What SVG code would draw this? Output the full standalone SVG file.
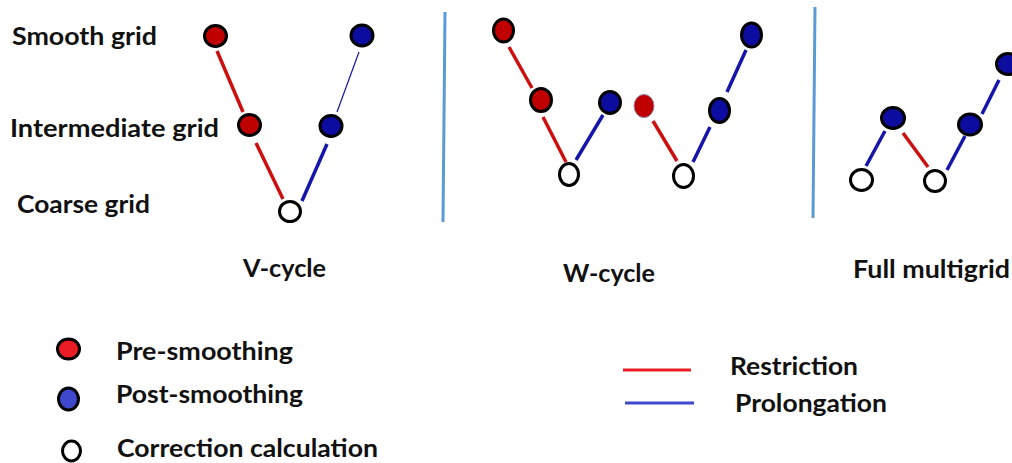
<svg xmlns="http://www.w3.org/2000/svg" width="1012" height="463" viewBox="0 0 1012 463">
<style>
text{font-family:Lato,"Open Sans","Liberation Sans",sans-serif;font-weight:bold;fill:#111;}
.lbl{font-size:24.5px;}
.pre{fill:#c00000;stroke:#000;stroke-width:3;}
.post{fill:#0c0ca0;stroke:#000;stroke-width:3;}
.cor{fill:#fff;stroke:#000;stroke-width:3;}
.r{stroke:#cc1010;stroke-width:3.5;fill:none;}
.b{stroke:#1515aa;stroke-width:3.5;fill:none;}
.sep{stroke:#5b9bd5;stroke-width:3;}
</style>
<rect width="1012" height="463" fill="#fff"/>
<!-- separators -->
<line class="sep" x1="445" y1="12" x2="443" y2="222"/>
<line class="sep" x1="815" y1="7" x2="813" y2="218"/>
<!-- row labels -->
<text class="lbl" x="12" y="45" textLength="145" lengthAdjust="spacingAndGlyphs">Smooth grid</text>
<text class="lbl" x="10" y="137" textLength="209" lengthAdjust="spacingAndGlyphs">Intermediate grid</text>
<text class="lbl" x="17" y="213" textLength="133" lengthAdjust="spacingAndGlyphs">Coarse grid</text>
<text class="lbl" x="243" y="277" textLength="83" lengthAdjust="spacingAndGlyphs">V-cycle</text>
<text class="lbl" x="563" y="282" textLength="92" lengthAdjust="spacingAndGlyphs">W-cycle</text>
<text class="lbl" x="853" y="278" textLength="157" lengthAdjust="spacingAndGlyphs">Full multigrid</text>
<!-- connectors -->
<g id="connectors">
<line class="r" x1="217" y1="51" x2="243" y2="112"/>
<line class="r" x1="256" y1="143" x2="283" y2="199"/>
<line class="b" x1="302" y1="201" x2="327" y2="144"/>
<line class="b" x1="337" y1="112" x2="359" y2="52" style="stroke-width:1.2"/>
<line class="r" x1="509" y1="47" x2="532" y2="88"/>
<line class="r" x1="543" y1="117" x2="566" y2="162"/>
<line class="b" x1="576" y1="160" x2="603" y2="115"/>
<line class="r" x1="653" y1="121" x2="677" y2="161"/>
<line class="b" x1="693" y1="162" x2="710" y2="127"/>
<line class="b" x1="727" y1="92" x2="746" y2="50"/>
<line class="b" x1="866" y1="166" x2="885" y2="131"/>
<line class="r" x1="903" y1="133" x2="928" y2="167"/>
<line class="b" x1="947" y1="170" x2="965" y2="136"/>
<line class="b" x1="982" y1="114" x2="999" y2="80"/>
</g>
<!-- V-cycle nodes -->
<g id="v-pre-1"><ellipse class="pre" cx="215.5" cy="36" rx="11" ry="10.5"/></g>
<g id="v-pre-2"><ellipse class="pre" cx="249.5" cy="125" rx="11" ry="10.5"/></g>
<g id="v-cor"><ellipse class="cor" cx="290" cy="211.5" rx="10.5" ry="10"/></g>
<g id="v-post-1"><ellipse class="post" cx="331" cy="126" rx="11" ry="10.5"/></g>
<g id="v-post-2"><ellipse class="post" cx="362" cy="35.5" rx="11" ry="10.5"/></g>
<!-- W-cycle nodes -->
<g id="w-pre-1"><ellipse class="pre" cx="503.5" cy="30.5" rx="10" ry="11.5"/></g>
<g id="w-pre-2"><ellipse class="pre" cx="541" cy="100" rx="10.5" ry="11.5"/></g>
<g id="w-cor-1"><ellipse class="cor" cx="569" cy="174.5" rx="9.5" ry="11"/></g>
<g id="w-post-1"><ellipse class="post" cx="610" cy="102.5" rx="10.5" ry="11"/></g>
<g id="w-pre-3"><ellipse cx="644" cy="106" rx="10" ry="11.5" fill="#c00000" stroke="#8a8aa0" stroke-width="1"/></g>
<g id="w-cor-2"><ellipse class="cor" cx="683.5" cy="176" rx="10" ry="11.5"/></g>
<g id="w-post-2"><ellipse class="post" cx="719.5" cy="110.5" rx="10" ry="12"/></g>
<g id="w-post-3"><ellipse class="post" cx="751.5" cy="35" rx="10" ry="12"/></g>
<!-- Full multigrid nodes -->
<g id="f-cor-1"><ellipse class="cor" cx="861.5" cy="180" rx="11" ry="10.5"/></g>
<g id="f-post-1"><ellipse class="post" cx="893" cy="118" rx="11.5" ry="10.5"/></g>
<g id="f-cor-2"><ellipse class="cor" cx="935" cy="181" rx="10.5" ry="10.5"/></g>
<g id="f-post-2"><ellipse class="post" cx="970" cy="124.5" rx="11.5" ry="10.5"/></g>
<g id="f-post-3"><ellipse class="post" cx="1008" cy="64" rx="11.5" ry="10.5"/></g>
<!-- legend -->
<g id="legend-pre"><ellipse cx="68.5" cy="349" rx="11" ry="10" fill="#ed1c24" stroke="#000" stroke-width="3"/>
<text class="lbl" x="116" y="360" textLength="177" lengthAdjust="spacingAndGlyphs">Pre-smoothing</text></g>
<g id="legend-post"><ellipse cx="68.5" cy="399" rx="10" ry="11" fill="#3f48cc" stroke="#000" stroke-width="3"/>
<text class="lbl" x="116" y="403" textLength="187" lengthAdjust="spacingAndGlyphs">Post-smoothing</text></g>
<g id="legend-cor"><ellipse cx="71.5" cy="451" rx="9" ry="10" fill="#fff" stroke="#000" stroke-width="3"/>
<text class="lbl" x="117" y="457" textLength="261" lengthAdjust="spacingAndGlyphs">Correction calculation</text></g>
<g id="legend-restriction"><line x1="623" y1="370" x2="691" y2="370" stroke="#ed1c24" stroke-width="3"/>
<text class="lbl" x="730" y="375" textLength="128" lengthAdjust="spacingAndGlyphs">Restriction</text></g>
<g id="legend-prolongation"><line x1="625" y1="403" x2="694" y2="403" stroke="#3f48cc" stroke-width="3"/>
<text class="lbl" x="735" y="412" textLength="152" lengthAdjust="spacingAndGlyphs">Prolongation</text></g>
</svg>
